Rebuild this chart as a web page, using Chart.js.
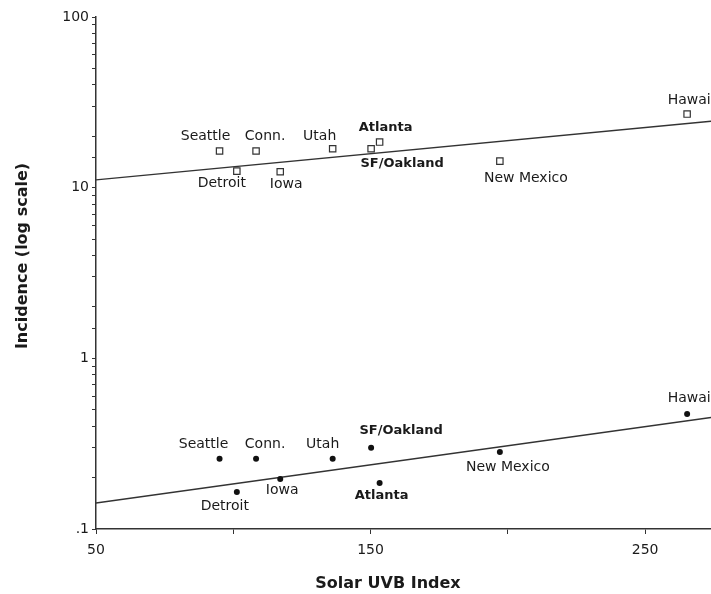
<!DOCTYPE html>
<html>
<head>
<meta charset="utf-8">
<script src="https://cdn.jsdelivr.net/npm/chart.js@4.4.0/dist/chart.umd.min.js"></script>
<style>
  html, body { margin: 0; padding: 0; background: #fff; }
  #wrap { width: 711px; height: 594px; position: relative; }
</style>
</head>
<body>
<div id="wrap"><canvas id="chart"></canvas></div>
<script>
// data
const cities = ["Seattle", "Detroit", "Conn.", "Iowa", "Utah", "SF/Oakland", "Atlanta", "New Mexico", "Hawaii"];
const uvbIndex = [95, 101.3, 108.3, 117.1, 136.2, 150.2, 153.3, 197.1, 265.3];
const incidenceUpper = [16.4, 12.5, 16.4, 12.4, 16.9, 16.9, 18.5, 14.3, 27.0];
const incidenceLower = [0.258, 0.165, 0.258, 0.196, 0.258, 0.299, 0.186, 0.283, 0.472];
const fitX = [50, 274];
const fitUpper = [11.1, 24.5];
const fitLower = [0.142, 0.45];
const yTickLabels = { 100: "100", 10: "10", 1: "1", 0.1: ".1" };
const xTickLabels = [50, 150, 250];
const boldCities = ["SF/Oakland", "Atlanta"];
const xTitle = "Solar UVB Index";
const yTitle = "Incidence (log scale)";

// label placement (px from the marker), same order as cities
const upperOffsets = [[-14, -15], [-15, 12], [9, -15], [6, 13], [-13, -12], [31, 15], [6, -14], [26, 17], [4, -14]];
const lowerOffsets = [[-16, -14], [-12, 14], [9, -14], [2, 11], [-10, -14], [30, -17], [2, 13], [8, 15], [4, -16]];

const ink = "#1a1a1a";
const font = "DejaVu Sans";

const cityLabels = {
  id: "cityLabels",
  afterDatasetsDraw(chart) {
    const ctx = chart.ctx;
    ctx.save();
    ctx.fillStyle = ink;
    ctx.textAlign = "center";
    ctx.textBaseline = "middle";
    [[0, upperOffsets], [1, lowerOffsets]].forEach(function(pair) {
      const meta = chart.getDatasetMeta(pair[0]);
      meta.data.forEach(function(pt, i) {
        const bold = boldCities.indexOf(cities[i]) >= 0;
        ctx.font = bold ? "bold 13px '" + font + "'" : "14px '" + font + "'";
        ctx.fillText(cities[i], pt.x + pair[1][i][0], pt.y + pair[1][i][1]);
      });
    });
    ctx.restore();
  }
};

// axis titles sit a little off-centre in the original figure
const axisTitles = {
  id: "axisTitles",
  afterDraw(chart) {
    const ctx = chart.ctx;
    ctx.save();
    ctx.fillStyle = ink;
    ctx.font = "bold 16px '" + font + "'";
    ctx.textAlign = "center";
    ctx.textBaseline = "middle";
    ctx.fillText(xTitle, 388, 584);
    ctx.translate(23, 256);
    ctx.rotate(-Math.PI / 2);
    ctx.fillText(yTitle, 0, 0);
    ctx.restore();
  }
};

function points(xs, ys) {
  return xs.map(function(x, i) { return { x: x, y: ys[i] }; });
}

const ctx = document.getElementById("chart").getContext("2d");
const myChart = new Chart(ctx, {
  type: "scatter",
  data: {
    datasets: [
      {
        label: "upper",
        data: points(uvbIndex, incidenceUpper),
        pointStyle: "rect",
        pointRadius: 4.5,
        pointBackgroundColor: "#fff",
        pointBorderColor: "#333",
        pointBorderWidth: 1.2
      },
      {
        label: "lower",
        data: points(uvbIndex, incidenceLower),
        pointStyle: "circle",
        pointRadius: 3,
        pointBackgroundColor: "#111",
        pointBorderColor: "#111",
        pointBorderWidth: 0
      },
      {
        label: "fit upper",
        data: points(fitX, fitUpper),
        showLine: true,
        pointRadius: 0,
        borderColor: "#333",
        borderWidth: 1.3
      },
      {
        label: "fit lower",
        data: points(fitX, fitLower),
        showLine: true,
        pointRadius: 0,
        borderColor: "#333",
        borderWidth: 1.3
      }
    ]
  },
  options: {
    responsive: true,
    maintainAspectRatio: false,
    animation: false,
    layout: { autoPadding: false, padding: { top: 17, right: 0, bottom: 0, left: 0 } },
    plugins: { legend: { display: false }, tooltip: { enabled: false } },
    scales: {
      x: {
        type: "linear",
        min: 50,
        max: 274,
        border: { display: true, color: "#333", width: 1.5 },
        grid: { drawOnChartArea: false, drawTicks: true, tickLength: 5, tickColor: "#333" },
        afterBuildTicks: function(s) {
          s.ticks = s.ticks.filter(function(t) { return t.value % 50 === 0; });
        },
        afterFit: function(s) {
          s.height = 65;
          s.paddingRight = 0;
          s.paddingLeft = 0;
        },
        ticks: {
          stepSize: 50,
          autoSkip: false,
          maxRotation: 0,
          color: ink,
          padding: 8,
          font: { family: font, size: 14 },
          callback: function(v) { return xTickLabels.indexOf(v) >= 0 ? String(v) : ""; }
        }
      },
      y: {
        type: "logarithmic",
        min: 0.1,
        max: 100,
        border: { display: true, color: "#333", width: 1.5 },
        grid: { drawOnChartArea: false, drawTicks: true, tickLength: 4, tickColor: "#333" },
        afterFit: function(s) {
          s.width = 96;
          s.paddingTop = 0;
          s.paddingBottom = 0;
        },
        ticks: {
          autoSkip: false,
          color: ink,
          padding: 3,
          font: { family: font, size: 14 },
          callback: function(v) { return yTickLabels[v] !== undefined ? yTickLabels[v] : ""; }
        }
      }
    }
  },
  plugins: [cityLabels, axisTitles]
});
</script>
</body>
</html>
